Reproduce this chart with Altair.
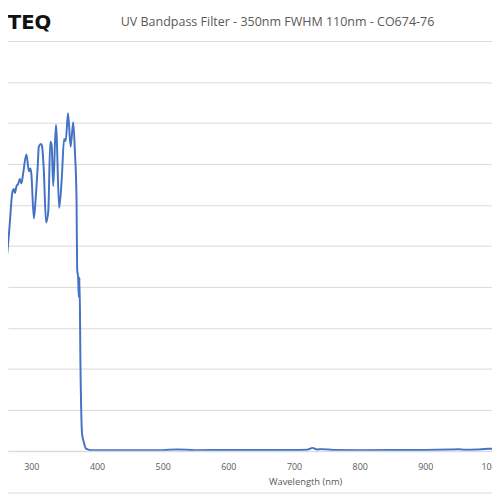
import altair as alt
import pandas as pd

# Wavelength (nm) and transmission (%)
wavelength = [252.5, 257.5, 260.0, 261.5, 263.4, 266.4, 271.5, 273.5, 275.0, 277.5,
              279.9, 282.5, 285.0, 287.4, 292.5, 296.4, 298.5, 300.0, 303.9, 306.4,
              309.9, 311.4, 315.0, 316.5, 318.9, 322.5, 325.9, 328.9, 330.9, 333.4,
              337.4, 338.3, 342.4, 346.4, 349.9, 352.4, 355.9, 359.9, 363.8, 366.4,
              368.9, 369.8, 371.3, 372.3, 373.4, 374.9, 377.3, 379.8, 383.3, 392.3,
              420, 450, 500, 522, 550, 600, 650, 700, 720, 728, 735, 742, 760, 800,
              850, 900, 940, 950, 960, 980, 990, 1000, 1010]
transmission = [0.5, 12.2, 30.5, 45.9, 48.3, 53.8, 63.4, 63.9, 62.9, 64.6,
                65.1, 66.3, 65.3, 67.5, 72.3, 68.2, 68.9, 67.7, 56.7, 61.0,
                69.9, 74.2, 74.9, 74.2, 68.9, 55.7, 58.6, 75.4, 74.7, 64.6,
                79.5, 77.8, 59.3, 66.5, 76.1, 75.6, 82.4, 74.2, 80.2, 73.0,
                61.0, 44.2, 42.3, 37.5, 42.3, 20.2, 4.1, 2.2, 0.5, 0.1,
                0.1, 0.1, 0.15, 0.3, 0.15, 0.2, 0.2, 0.2, 0.25, 0.7, 0.3, 0.4, 0.2, 0.15,
                0.2, 0.2, 0.3, 0.35, 0.25, 0.3, 0.45, 0.5, 0.6]

x_ticks = [300, 400, 500, 600, 700, 800, 900, 1000]
y_grid = [0, 10, 20, 30, 40, 50, 60, 70, 80, 90, 100]

title_text = "UV Bandpass Filter - 350nm FWHM 110nm - CO674-76"
logo_text = "TEQ"
x_title = "Wavelength (nm)"

df = pd.DataFrame({"w": wavelength, "t": transmission})

line = alt.Chart(df).mark_line(color="#4472C4", strokeWidth=2, clip=True,
                               interpolate="monotone").encode(
    x=alt.X("w:Q",
            scale=alt.Scale(domain=[264.5, 1001.5], nice=False, zero=False),
            axis=alt.Axis(values=x_ticks, format="d", title=x_title, grid=False,
                          ticks=False, tickSize=0, domainColor="#d9d9d9", domainWidth=1,
                          labelColor="#595959", labelFontSize=9, labelFont="Open Sans",
                          labelPadding=12, labelFlush=False, labelOverlap=False,
                          titleColor="#595959", titleFontSize=9.5, titleFont="Open Sans",
                          titleFontWeight="normal", titleX=302, titleAlign="center",
                          titlePadding=5)),
    y=alt.Y("t:Q",
            scale=alt.Scale(domain=[0, 100], nice=False),
            axis=alt.Axis(values=y_grid, labels=False, ticks=False, domain=False,
                          title=None, grid=True, gridColor="#d9d9d9", gridWidth=1)),
)

border = alt.Chart(pd.DataFrame({"k": [0]})).mark_rule(color="#d9d9d9", strokeWidth=1).encode(
    x=alt.value(0), x2=alt.value(492), y=alt.value(459.5)
)

title_mark = alt.Chart(pd.DataFrame({"s": [title_text]})).mark_text(
    font="Open Sans", fontSize=12.7, color="#595959", align="center", baseline="middle"
).encode(x=alt.value(274), y=alt.value(-19.5), text="s:N")

logo_mark = alt.Chart(pd.DataFrame({"s": [logo_text]})).mark_text(
    font="DejaVu Sans", fontSize=20, fontWeight="bold", color="#111111",
    align="right", baseline="alphabetic"
).encode(x=alt.value(44), y=alt.value(-12.5), text="s:N")

chart = alt.layer(line, border, title_mark, logo_mark).properties(
    width=492, height=416.5,
    autosize=alt.AutoSizeParams(type="none"),
    padding={"left": 0, "right": 0, "top": 29.5, "bottom": 46},
).configure_view(stroke=None)

chart.save("out.html", embed_options={"renderer": "svg", "actions": False})
